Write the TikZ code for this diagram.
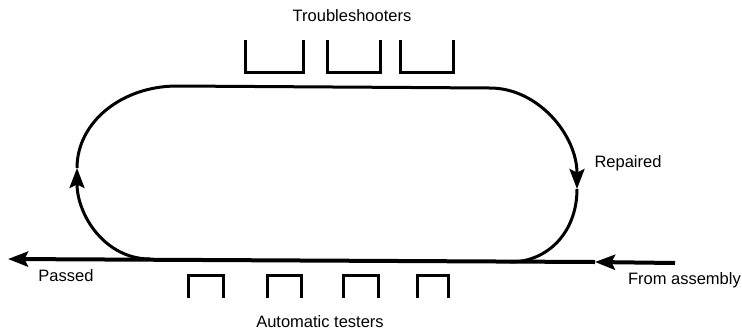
\documentclass[tikz,border=0pt]{standalone}
\usepackage{fontspec}
\setmainfont{Liberation Sans}
\usetikzlibrary{arrows.meta}
\begin{document}
\begin{tikzpicture}[x=1pt,y=-1pt,
  lbl/.style={font=\fontsize{16.5}{20}\selectfont, inner sep=0pt},
  mainline/.style={line width=4pt},
  loopline/.style={line width=3pt},
  station/.style={line width=3pt, line join=miter},
  tip/.style={-{Stealth[length=20pt,width=15pt,inset=3.5pt]}},
]
\useasboundingbox (0,0) rectangle (742,333);
\fill[white] (0,0) rectangle (742,333);

% coordinates of the line
\coordinate (fa) at (675,263);
\coordinate (mid) at (595,262);
\coordinate (pass) at (8,259);
\coordinate (lb) at (150,259);
\coordinate (la) at (77,168);
\coordinate (tl) at (177,86);
\coordinate (tr) at (490,88);
\coordinate (ra) at (577,189);
\coordinate (rb) at (510,262);

% main line
\draw[mainline,tip] (fa) -- (mid);
\draw[mainline,tip] (mid) -- (pass);

% loop
\draw[loopline,tip] (lb) .. controls (105,259) and (77,215) .. (la);
\draw[loopline,tip] (la) .. controls (77,122) and (122,86) .. (tl) -- (tr)
   .. controls (538,88) and (577,135) .. (ra);
\draw[loopline] (ra) .. controls (577,232) and (548,262) .. (rb);

% troubleshooters
\foreach \a/\b in {245/303, 327/380, 400/453}
  \draw[station] (\a,40) -- (\a,72) -- (\b,72) -- (\b,40);

% automatic testers
\foreach \a/\b in {188/223, 267/301, 343/378, 417/448}
  \draw[station] (\a,298) -- (\a,275) -- (\b,275) -- (\b,298);

% labels
\node[lbl] (ttroub) at (352,16) {Troubleshooters};
\node[lbl] (ttest) at (320,322) {Automatic testers};
\node[lbl] (tpass) at (66,276) {Passed};
\node[lbl] (trep) at (628,163) {Repaired};
\node[lbl,anchor=east] (tfrom) at (741,280) {From assembly};
\end{tikzpicture}
\end{document}
